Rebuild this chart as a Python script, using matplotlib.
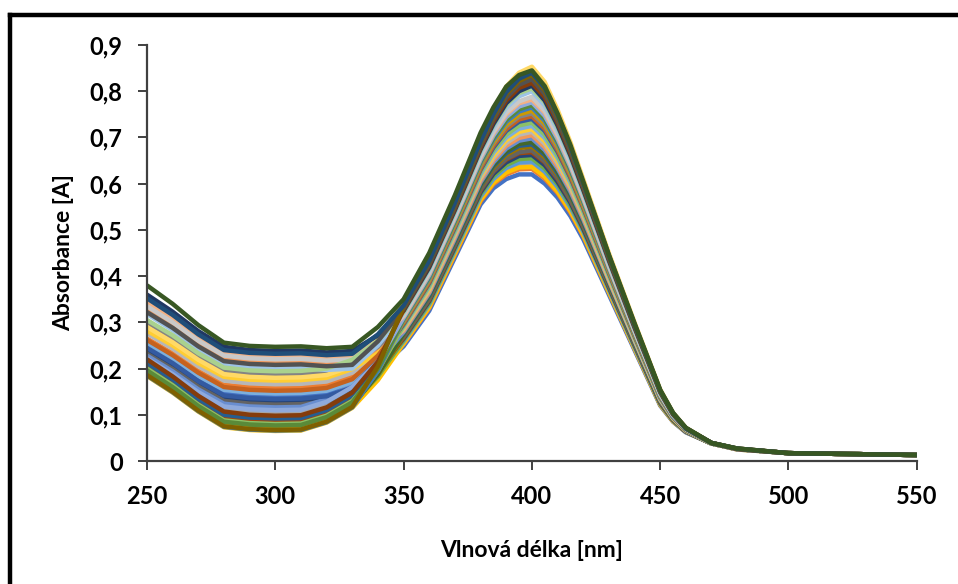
import matplotlib
matplotlib.use("Agg")
import matplotlib.pyplot as plt
from matplotlib.lines import Line2D

wavelengths = [250, 260, 270, 280, 290, 300, 310, 320, 330, 340, 350,
               360, 370, 380, 385, 390, 395, 400, 405, 410, 415, 420,
               430, 440, 450, 455, 460, 470, 480, 500, 550]

# Absorbance of each recorded spectrum (series 1..36)
spectra = [
  [.240,.210,.175,.147,.142,.140,.141,.146,.165,.197,.248, .325,.440,.555,.590,.610,.620,.620,.600,.570,.530,.480,.360,.240,.120,.085,.062,.038, .025,.017,.013],
  [.265,.233,.195,.165,.160,.158,.159,.164,.183,.208,.253, .331,.446,.562,.599,.620,.631,.632,.611,.580,.538,.487,.365,.243,.122,.086,.063,.038, .026,.017,.013],
  [.215,.182,.143,.112,.106,.104,.105,.122,.154,.195,.256, .335,.451,.568,.605,.628,.640,.640,.620,.587,.544,.492,.368,.245,.123,.087,.063,.038, .026,.017,.013],
  [.184,.148,.107,.073,.067,.065,.066,.083,.115,.175,.254, .333,.449,.565,.602,.624,.635,.636,.615,.583,.541,.489,.366,.244,.122,.086,.063,.038, .025,.017,.013],
  [.205,.170,.129,.096,.090,.088,.089,.106,.138,.189,.259, .339,.455,.572,.610,.634,.646,.648,.626,.593,.549,.496,.371,.247,.124,.087,.063,.038, .026,.017,.013],
  [.192,.157,.115,.082,.076,.074,.075,.092,.124,.183,.262, .342,.459,.577,.616,.640,.653,.655,.633,.599,.554,.500,.374,.249,.125,.088,.064,.038, .026,.017,.013],
  [.238,.205,.167,.136,.130,.128,.129,.134,.153,.199,.265, .346,.463,.581,.621,.646,.660,.662,.640,.604,.559,.503,.376,.251,.126,.089,.064,.038, .026,.017,.013],
  [.202,.167,.125,.092,.086,.084,.085,.102,.134,.190,.267, .349,.466,.585,.626,.652,.666,.668,.646,.610,.564,.507,.379,.253,.127,.089,.064,.038, .026,.017,.013],
  [.232,.199,.161,.130,.124,.122,.123,.128,.147,.198,.269, .350,.468,.587,.627,.654,.668,.672,.648,.612,.565,.509,.380,.253,.128,.089,.064,.038, .026,.017,.013],
  [.190,.155,.113,.080,.074,.072,.073,.090,.122,.187,.272, .355,.473,.593,.634,.662,.677,.680,.657,.619,.572,.514,.383,.256,.129,.090,.065,.038, .026,.017,.013],
  [.212,.176,.134,.100,.094,.092,.093,.110,.142,.198,.274, .357,.475,.596,.638,.666,.682,.685,.662,.623,.575,.516,.385,.257,.130,.091,.065,.038, .026,.017,.013],
  [.192,.155,.113,.079,.072,.070,.071,.088,.120,.188,.276, .360,.478,.599,.641,.670,.686,.690,.666,.627,.578,.519,.387,.258,.131,.091,.065,.038, .026,.017,.013],
  [.228,.194,.155,.124,.118,.116,.117,.134,.166,.213,.279, .363,.481,.603,.646,.676,.693,.698,.673,.633,.583,.523,.390,.260,.132,.092,.065,.038, .026,.017,.013],
  [.330,.295,.255,.222,.216,.214,.215,.211,.214,.238,.282, .366,.485,.607,.651,.682,.699,.705,.679,.638,.588,.527,.392,.262,.133,.092,.066,.038, .026,.017,.013],
  [.276,.243,.205,.174,.168,.166,.167,.172,.191,.228,.285, .370,.489,.612,.656,.688,.706,.712,.686,.644,.592,.531,.395,.263,.134,.093,.066,.038, .026,.017,.013],
  [.282,.250,.212,.182,.176,.174,.175,.180,.199,.233,.287, .373,.493,.616,.661,.694,.712,.718,.692,.650,.597,.535,.398,.265,.135,.093,.066,.038, .026,.017,.013],
  [.255,.222,.184,.154,.148,.146,.147,.152,.171,.220,.290, .377,.496,.620,.667,.700,.719,.725,.699,.656,.602,.539,.401,.267,.136,.094,.067,.038, .026,.017,.013],
  [.200,.164,.122,.088,.082,.080,.081,.098,.130,.195,.293, .380,.500,.625,.672,.706,.726,.732,.706,.661,.607,.542,.403,.269,.137,.095,.067,.038, .026,.017,.013],
  [.245,.212,.173,.142,.136,.134,.135,.140,.159,.218,.296, .385,.505,.630,.678,.714,.734,.740,.714,.669,.613,.548,.407,.271,.138,.095,.067,.039, .026,.017,.013],
  [.262,.229,.191,.160,.154,.152,.153,.158,.177,.228,.298, .387,.508,.633,.682,.718,.739,.746,.719,.673,.616,.550,.409,.272,.139,.096,.067,.039, .026,.017,.013],
  [.300,.266,.227,.196,.190,.188,.189,.194,.213,.247,.301, .391,.511,.638,.687,.724,.745,.752,.725,.678,.621,.554,.411,.274,.140,.096,.068,.039, .026,.017,.013],
  [.188,.152,.110,.076,.070,.068,.069,.086,.118,.195,.303, .393,.514,.641,.690,.728,.750,.758,.730,.682,.624,.557,.413,.275,.141,.097,.068,.039, .026,.017,.013],
  [.185,.149,.108,.074,.068,.066,.067,.084,.116,.195,.306, .396,.518,.645,.695,.734,.756,.765,.736,.688,.629,.561,.416,.277,.142,.097,.068,.039, .026,.017,.013],
  [.196,.160,.119,.085,.079,.077,.078,.095,.127,.200,.308, .399,.520,.648,.699,.738,.761,.770,.741,.692,.632,.563,.418,.278,.142,.098,.068,.039, .026,.017,.013],
  [.222,.188,.149,.118,.112,.110,.111,.128,.160,.215,.310, .402,.524,.652,.704,.744,.767,.776,.747,.697,.637,.567,.420,.280,.143,.098,.069,.039, .026,.017,.013],
  [.345,.309,.268,.234,.228,.226,.227,.223,.226,.260,.313, .406,.528,.657,.709,.750,.774,.782,.754,.703,.642,.571,.423,.282,.145,.099,.069,.039, .026,.017,.013],
  [.335,.300,.260,.228,.222,.220,.221,.217,.220,.258,.315, .408,.530,.659,.712,.754,.778,.788,.758,.707,.645,.574,.425,.283,.145,.099,.069,.039, .026,.017,.013],
  [.290,.257,.219,.188,.182,.180,.181,.186,.205,.263,.341, .440,.565,.700,.760,.810,.840,.853,.820,.760,.690,.610,.450,.300,.155,.105,.072,.039, .027,.017,.013],
  [.318,.283,.241,.208,.202,.200,.201,.197,.200,.250,.320, .414,.536,.667,.721,.764,.789,.800,.769,.716,.653,.580,.429,.286,.147,.100,.070,.039, .026,.017,.013],
  [.305,.272,.233,.202,.196,.194,.195,.200,.219,.260,.322, .417,.540,.671,.726,.770,.796,.806,.776,.722,.658,.584,.432,.288,.148,.101,.070,.039, .026,.017,.013],
  [.360,.323,.281,.247,.240,.238,.239,.235,.238,.272,.325, .419,.543,.674,.729,.774,.800,.812,.780,.726,.661,.587,.434,.289,.149,.101,.070,.039, .026,.017,.013],
  [.220,.183,.141,.107,.100,.098,.099,.116,.148,.215,.327, .423,.546,.678,.735,.780,.807,.818,.787,.732,.666,.591,.437,.291,.150,.102,.071,.039, .026,.017,.013],
  [.322,.288,.248,.216,.210,.208,.209,.205,.208,.259,.330, .426,.550,.683,.740,.786,.814,.826,.794,.737,.671,.594,.439,.293,.151,.103,.071,.039, .027,.017,.013],
  [.186,.150,.109,.075,.069,.067,.068,.085,.117,.205,.334, .431,.555,.688,.746,.794,.822,.835,.802,.745,.677,.600,.443,.295,.152,.103,.071,.039, .027,.017,.013],
  [.352,.316,.274,.240,.234,.232,.233,.229,.232,.274,.336, .433,.558,.691,.750,.798,.827,.840,.807,.749,.680,.602,.445,.296,.153,.104,.071,.039, .027,.017,.013],
  [.380,.340,.294,.256,.249,.247,.248,.244,.247,.290,.350, .450,.575,.710,.765,.810,.835,.845,.811,.752,.684,.605,.446,.298,.154,.104,.072,.039, .027,.017,.013],
]

# Office default series colours, in series order
seriesColors = [
  "#4472C4", "#ED7D31", "#A5A5A5", "#FFC000", "#5B9BD5", "#70AD47",
  "#264478", "#9E480E", "#636363", "#997300", "#255E91", "#43682B",
  "#698ED0", "#F1975A", "#B7B7B7", "#FFCD33", "#7CAFDD", "#8CC168",
  "#335AA1", "#C5621F", "#848484", "#CC9A00", "#3C7DC0", "#5A8A39",
  "#8FAADC", "#F4B183", "#C9C9C9", "#FFD966", "#9DC3E6", "#A9D18E",
  "#203864", "#843C0C", "#525252", "#7F6000", "#1F4E79", "#385723",
]

xTicks = [250, 300, 350, 400, 450, 500, 550]
yTicks = [0, 0.1, 0.2, 0.3, 0.4, 0.5, 0.6, 0.7, 0.8, 0.9]
yTickLabels = ["0", "0,1", "0,2", "0,3", "0,4", "0,5", "0,6", "0,7", "0,8", "0,9"]

plt.rcParams['font.family'] = ['Lato', 'DejaVu Sans']

fig = plt.figure(figsize=(9.58, 5.84), dpi=100)
ax = fig.add_axes([0.1534, 0.2106, 0.8036, 0.7124])

for row, col in zip(spectra, seriesColors):
  ax.plot(wavelengths, row, color=col, linewidth=3.2,
          solid_capstyle="butt", solid_joinstyle="round")

ax.set_xlim(250, 550)
ax.set_ylim(0, 0.9)
ax.set_xticks(xTicks)
ax.set_xticklabels([str(t) for t in xTicks])
ax.set_yticks(yTicks)
ax.set_yticklabels(yTickLabels)

for lbl in ax.get_xticklabels() + ax.get_yticklabels():
  lbl.set_fontweight("bold")
  lbl.set_fontsize(17)

ax.tick_params(axis="both", direction="out", length=6.5, width=1.4,
               color="#404040", pad=11)

for side in ["top", "right"]:
  ax.spines[side].set_visible(False)
for side in ["left", "bottom"]:
  ax.spines[side].set_linewidth(1.6)
  ax.spines[side].set_color("#404040")

ax.set_xlabel("Vlnová délka [nm]", fontsize=16.5, fontweight="bold", labelpad=23)
ax.set_ylabel("Absorbance [A]", fontsize=16.5, fontweight="bold", labelpad=11)

# Thick chart-area frame, only top and left edges are visible in the crop
fig.add_artist(Line2D([10/958, 10/958], [0, 1 - 15/584], transform=fig.transFigure,
                      color="black", linewidth=3.2, solid_capstyle="projecting"))
fig.add_artist(Line2D([10/958, 1], [1 - 15/584, 1 - 15/584], transform=fig.transFigure,
                      color="black", linewidth=3.2, solid_capstyle="projecting"))

fig.savefig("out.png", dpi=100)
